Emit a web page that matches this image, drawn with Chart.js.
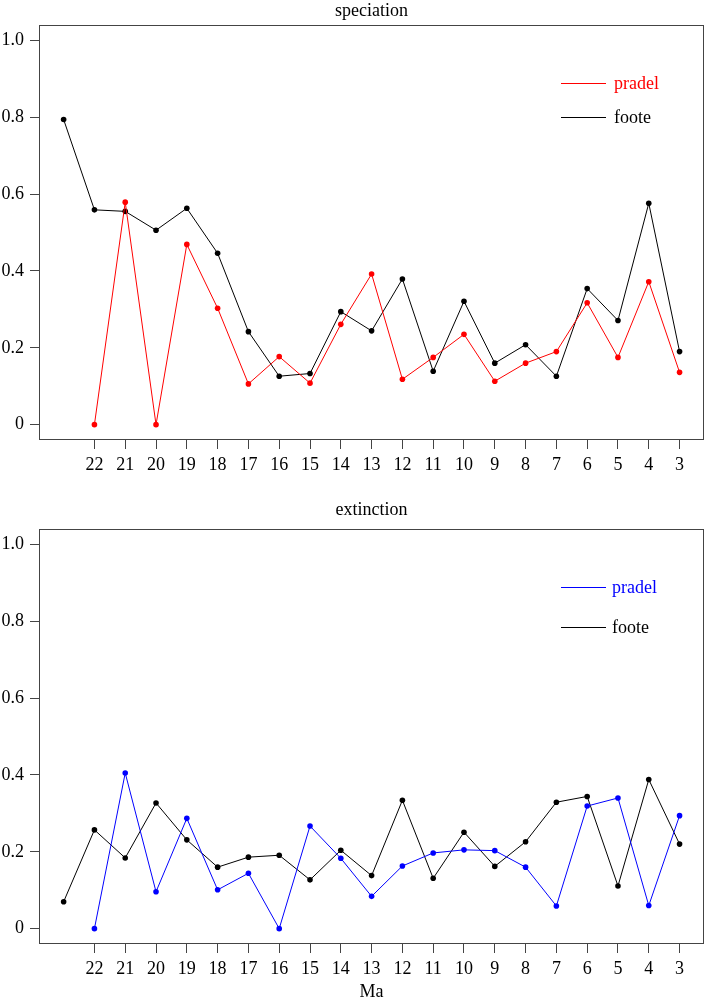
<!DOCTYPE html>
<html>
<head>
<meta charset="utf-8">
<title>speciation / extinction</title>
<script src="https://cdn.jsdelivr.net/npm/chart.js@4.4.1/dist/chart.umd.min.js"></script>
<style>
  body { margin: 0; background: #fff; }
  .panel { position: absolute; left: 0; }
</style>
</head>
<body>
<canvas id="speciationChart" class="panel" width="707" height="495" style="top:0"></canvas>
<canvas id="extinctionChart" class="panel" width="707" height="509" style="top:495px"></canvas>
<script>
const ages = [23, 22, 21, 20, 19, 18, 17, 16, 15, 14, 13, 12, 11, 10, 9, 8, 7, 6, 5, 4, 3];
const maTicks = [22, 21, 20, 19, 18, 17, 16, 15, 14, 13, 12, 11, 10, 9, 8, 7, 6, 5, 4, 3];
const yTicks = [0, 0.2, 0.4, 0.6, 0.8, 1];
const yTickLabels = ["0", "0.2", "0.4", "0.6", "0.8", "1.0"];

const speciationPradel = [null, 0, 0.579, 0, 0.469, 0.303, 0.106, 0.177, 0.108, 0.261, 0.392, 0.118, 0.175, 0.235, 0.113, 0.160, 0.190, 0.317, 0.175, 0.372, 0.136];
const speciationFoote = [0.794, 0.559, 0.555, 0.506, 0.563, 0.446, 0.242, 0.126, 0.133, 0.294, 0.244, 0.379, 0.139, 0.321, 0.160, 0.208, 0.126, 0.354, 0.271, 0.576, 0.190];
const extinctionPradel = [null, 0, 0.405, 0.096, 0.287, 0.101, 0.144, 0, 0.267, 0.183, 0.084, 0.163, 0.197, 0.205, 0.203, 0.160, 0.059, 0.319, 0.340, 0.060, 0.294];
const extinctionFoote = [0.070, 0.257, 0.184, 0.327, 0.231, 0.160, 0.186, 0.191, 0.127, 0.204, 0.138, 0.334, 0.131, 0.251, 0.162, 0.226, 0.329, 0.344, 0.111, 0.388, 0.220];

const serif = "'Liberation Serif', 'Times New Roman', Times, serif";
const frameColor = "#444";

const toPoints = (values) =>
  ages.map((age, i) => ({ x: age, y: values[i] })).filter((p) => p.y !== null);

const frameLegend = {
  id: "frameLegend",
  afterDraw(chart, args, opts) {
    const { ctx, chartArea } = chart;
    ctx.save();
    ctx.strokeStyle = frameColor;
    ctx.lineWidth = 1;
    ctx.strokeRect(
      Math.round(chartArea.left) + 0.5,
      Math.round(chartArea.top) + 0.5,
      Math.round(chartArea.width) - 1,
      Math.round(chartArea.height) - 1
    );
    ctx.font = `18px ${serif}`;
    ctx.textBaseline = "alphabetic";
    ctx.textAlign = "left";
    chart.data.datasets.forEach((ds, i) => {
      const y = Math.round(chartArea.top + opts.rows[i]) + 0.5;
      const x0 = chartArea.left + opts.lineX;
      ctx.strokeStyle = ds.borderColor;
      ctx.beginPath();
      ctx.moveTo(x0, y);
      ctx.lineTo(x0 + opts.lineLength, y);
      ctx.stroke();
      ctx.fillStyle = ds.borderColor;
      ctx.fillText(ds.label, chartArea.left + opts.textX, y + 5);
    });
    ctx.restore();
  },
};

function makePanel(canvasId, title, pradel, foote, pradelColor, panel) {
  const el = document.getElementById(canvasId);
  return new Chart(el, {
    type: "line",
    data: {
      datasets: [
        { label: "pradel", data: toPoints(pradel), borderColor: pradelColor, backgroundColor: pradelColor },
        { label: "foote", data: toPoints(foote), borderColor: "#000", backgroundColor: "#000" },
      ],
    },
    options: {
      responsive: false,
      animation: false,
      devicePixelRatio: 1,
      layout: { padding: { top: 0, right: 1, left: 0, bottom: 0 } },
      elements: {
        line: { borderWidth: 1, tension: 0, fill: false },
        point: { radius: 2.8, borderWidth: 0, hoverRadius: 2.8 },
      },
      plugins: {
        legend: { display: false },
        tooltip: { enabled: false },
        title: {
          display: true,
          text: title,
          fullSize: false,
          color: "#000",
          font: { family: serif, size: 18, weight: "normal", lineHeight: 1.2 },
          padding: panel.titlePadding,
        },
        frameLegend: panel.legend,
      },
      scales: {
        x: {
          type: "linear",
          reverse: true,
          min: 2.2,
          max: 23.8,
          afterBuildTicks: (scale) => {
            scale.ticks = maTicks.map((v) => ({ value: v }));
          },
          afterFit: (scale) => {
            scale.height = panel.xHeight;
          },
          grid: { drawOnChartArea: false, drawTicks: true, tickLength: 9, tickColor: frameColor },
          border: { display: false },
          ticks: {
            color: "#000",
            padding: 5,
            maxRotation: 0,
            autoSkip: false,
            font: { family: serif, size: 18 },
            callback: (v) => String(v),
          },
          title: {
            display: !!panel.xTitle,
            text: panel.xTitle || "",
            color: "#000",
            font: { family: serif, size: 18, lineHeight: 1.2 },
            padding: { top: 0, bottom: 1 },
          },
        },
        y: {
          type: "linear",
          min: -0.04,
          max: 1.04,
          afterBuildTicks: (scale) => {
            scale.ticks = yTicks.map((v) => ({ value: v }));
          },
          afterFit: (scale) => {
            scale.width = 39;
          },
          grid: { drawOnChartArea: false, drawTicks: true, tickLength: 9, tickColor: frameColor },
          border: { display: false },
          ticks: {
            color: "#000",
            padding: 6,
            autoSkip: false,
            font: { family: serif, size: 18 },
            callback: (v, i) => yTickLabels[i],
          },
        },
      },
    },
    plugins: [frameLegend],
  });
}

makePanel("speciationChart", "speciation", speciationPradel, speciationFoote, "#ff0000", {
  titlePadding: { top: 0, bottom: 3.4 },
  xHeight: 55,
  legend: { lineX: 522, lineLength: 45, textX: 575, rows: [58.3, 91.7] },
});

makePanel("extinctionChart", "extinction", extinctionPradel, extinctionFoote, "#0000ff", {
  titlePadding: { top: 4.2, bottom: 8.2 },
  xHeight: 60,
  xTitle: "Ma",
  legend: { lineX: 522, lineLength: 45, textX: 573, rows: [58.3, 97.7] },
});
</script>
</body>
</html>
